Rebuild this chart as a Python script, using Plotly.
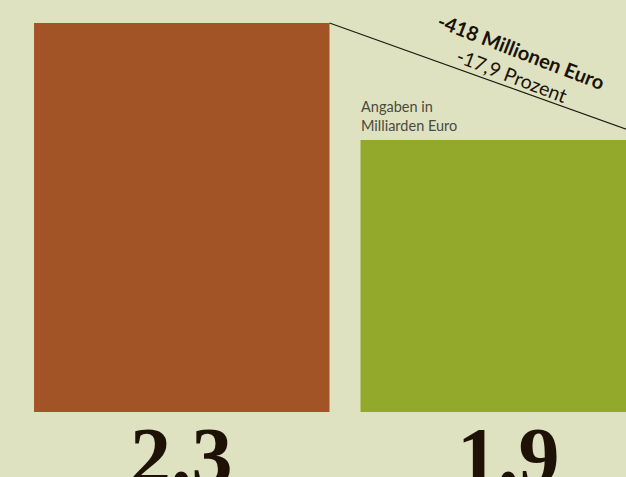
import plotly.graph_objects as go

# Data
categories = ["Vorher", "Nachher"]
values = [2.335, 1.917]          # Milliarden Euro
value_labels = ["2.3", "1.9"]
bar_colors = ["#a25427", "#93a92b"]
diff_label = "-418 Millionen Euro"
pct_label = "-17,9 Prozent"
note_label = "Angaben in<br>Milliarden Euro"

BG = "#dfe2c0"
W, H = 626, 477
PLOT_H = 412  # plot area height in px (top margin 0)

xidx = list(range(len(categories)))
bargap = 0.095
half = (1 - bargap) / 2

fig = go.Figure()
fig.add_trace(go.Bar(
    x=xidx, y=values, marker=dict(color=bar_colors, line=dict(width=0)),
    width=1 - bargap, hoverinfo="skip",
))
# connector between the top-right corners of the bars
fig.add_trace(go.Scatter(
    x=[xidx[0] + half, xidx[1] + half], y=values, mode="lines",
    line=dict(color="#1a1a10", width=1.2), hoverinfo="skip", cliponaxis=True,
))

def px(xp):
    return xp / W

def py(yp):
    return (PLOT_H - yp) / PLOT_H

ann = []
for i, lab in enumerate(value_labels):
    ann.append(dict(
        x=xidx[i], xref="x", y=py(409), yref="paper", text=f"<b>{lab}</b>",
        showarrow=False, xanchor="center", yanchor="top",
        font=dict(family="Liberation Serif", size=82, color="#1e1207"),
    ))
ann.append(dict(
    x=px(521), y=py(51), xref="paper", yref="paper", text=f"<b>{diff_label}</b>",
    showarrow=False, textangle=21, xanchor="center", yanchor="middle",
    font=dict(family="Lato", size=20, color="#1a1208"),
))
ann.append(dict(
    x=px(512), y=py(75), xref="paper", yref="paper", text=pct_label,
    showarrow=False, textangle=21, xanchor="center", yanchor="middle",
    font=dict(family="Lato", size=19.5, color="#1a1208"),
))
ann.append(dict(
    x=px(359), y=py(96), xref="paper", yref="paper", text=note_label,
    showarrow=False, xanchor="left", yanchor="top", align="left",
    font=dict(family="Lato", size=14.5, color="#4a4a3e"),
))

fig.update_layout(
    width=W, height=H,
    margin=dict(l=0, r=0, t=0, b=H - PLOT_H, pad=0),
    paper_bgcolor=BG, plot_bgcolor=BG,
    showlegend=False,
    xaxis=dict(range=[-0.5567, 1.3606], visible=False, fixedrange=True),
    yaxis=dict(range=[0.9453, 2.4171], visible=False, fixedrange=True),
    annotations=ann,
)

fig.write_html("out.html", config={"displayModeBar": False})
